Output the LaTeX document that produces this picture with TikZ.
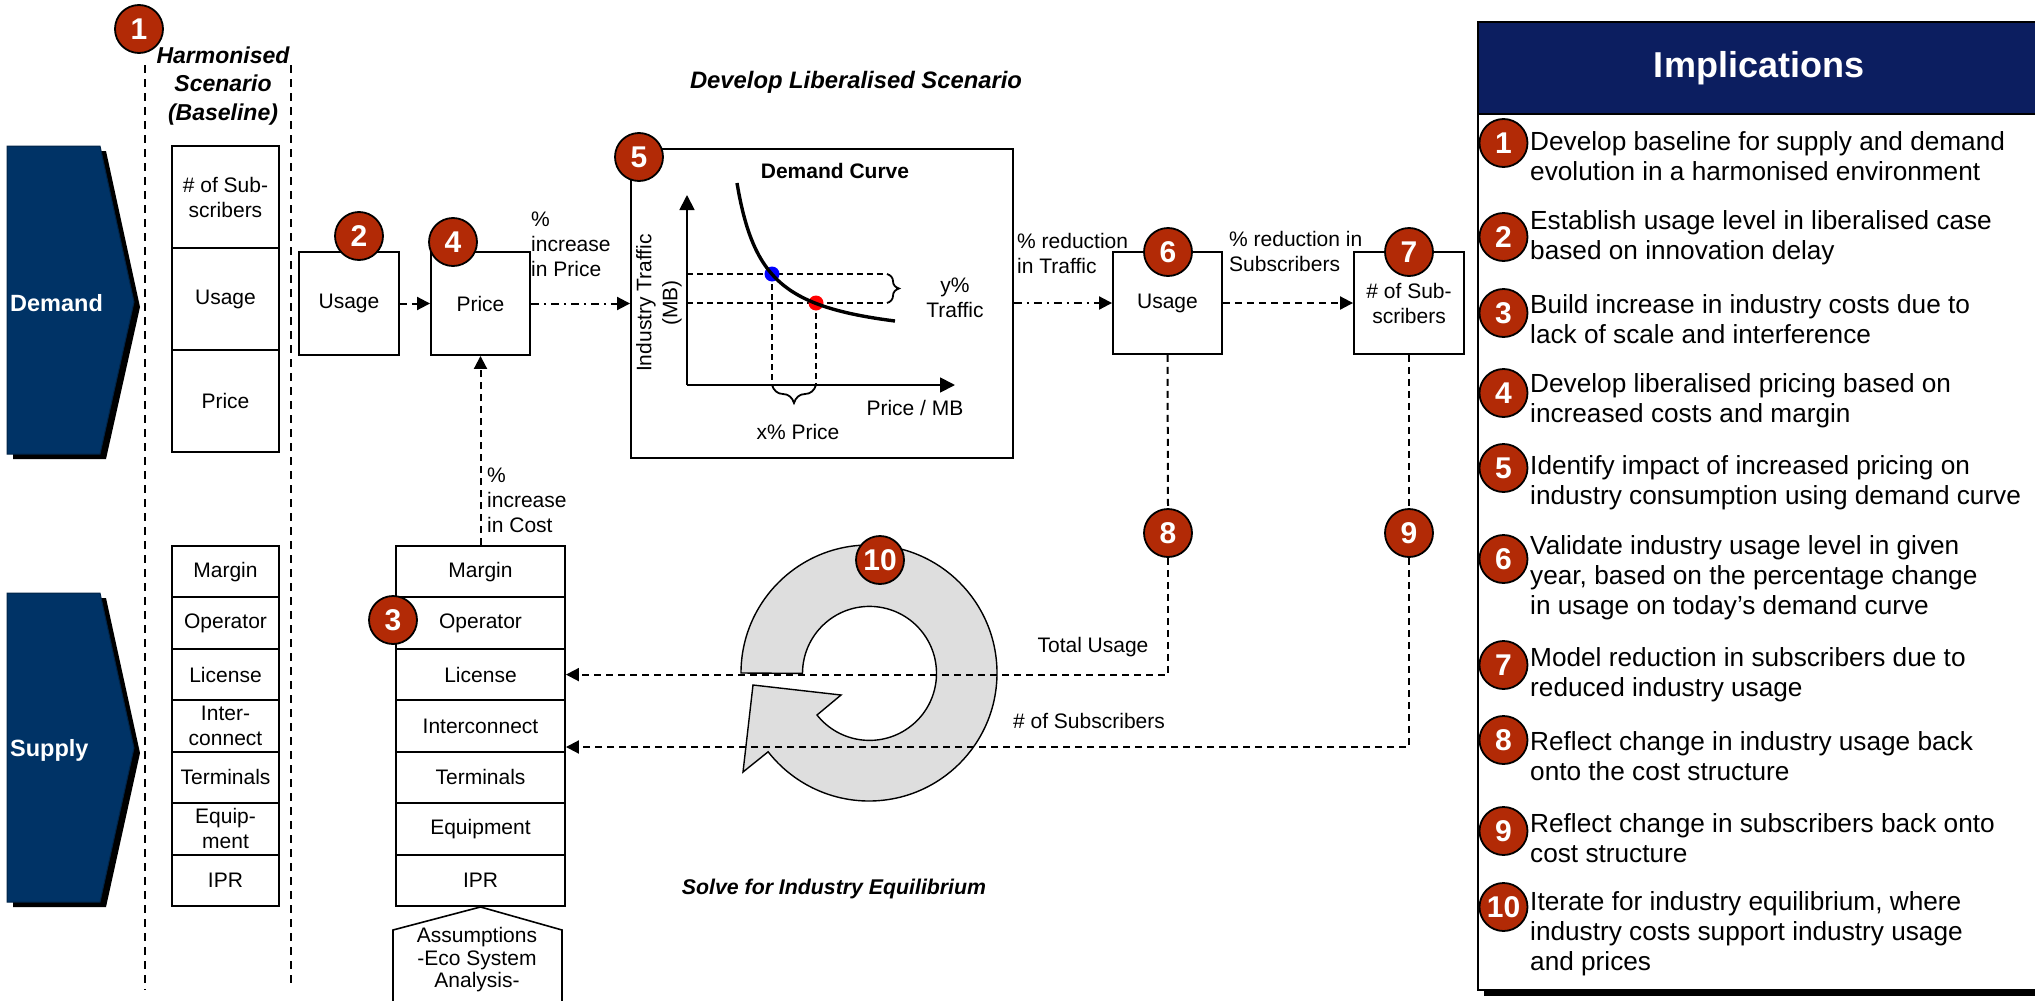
\documentclass[tikz,border=0pt]{standalone}
\usepackage{fontspec}
\setmainfont{Liberation Sans}
\usetikzlibrary{arrows.meta,decorations.pathreplacing,calc}
\definecolor{badgered}{RGB}{178,42,6}
\definecolor{navyA}{RGB}{0,51,102}
\definecolor{navyH}{RGB}{12,30,96}
\definecolor{ringgray}{RGB}{222,222,222}
\newcommand\myfs[2]{\fontsize{#1}{#2}\selectfont}
\begin{document}
\begin{tikzpicture}[x=1pt,y=-1pt,
  cbox/.style={draw=black,line width=1.9pt,inner sep=0pt,align=center,font=\myfs{21}{25}},
  badge/.style={circle,draw=black,line width=1.8pt,fill=badgered,text=white,font=\bfseries\myfs{30}{30},minimum size=48pt,inner sep=0pt},
  lbl/.style={font=\myfs{21}{25},align=left,inner sep=0pt},
  dashln/.style={line width=2pt,dash pattern=on 7pt off 5pt},
  thindash/.style={line width=1.6pt,dash pattern=on 6pt off 4pt},
  vdash/.style={line width=1.6pt,dash pattern=on 8pt off 6pt},
  dashdot/.style={line width=2pt,dash pattern=on 8pt off 5pt on 2pt off 5pt},
  arr/.style={-{Triangle[length=13pt,width=13pt]}},
  axarr/.style={-{Triangle[length=15pt,width=15pt]}},
  impitem/.style={anchor=west,align=left,inner sep=0pt,font=\myfs{26.2}{30}},
  arrowlbl/.style={text=white,font=\bfseries\myfs{23.5}{28},inner sep=0pt},
]
\useasboundingbox (0,0) rectangle (2035,1001);
\clip (0,0) rectangle (2035,1001);
\fill[white] (0,0) rectangle (2035,1001);

% ---- baseline dashed separators
\draw[vdash] (145,65) -- (145,990);
\draw[vdash] (291,65) -- (291,983);
\node[badge] (b1) at (139,29) {1};
\node[font=\bfseries\itshape\myfs{23}{28.5},align=center,inner sep=0pt] (tharm) at (223,86) {Harmonised\\Scenario\\(Baseline)};

% ---- Demand / Supply chevrons
\fill[black,shift={(6,5)}] (7,146) -- (100,146) -- (134,302) -- (100,454) -- (7,454) -- cycle;
\filldraw[fill=navyA,draw=navyA!70!black,line width=1pt] (7,146) -- (100,146) -- (134,302) -- (100,454) -- (7,454) -- cycle;
\node[arrowlbl,anchor=west] (demlbl) at (10,303) {Demand};
\fill[black,shift={(6,5)}] (7,593) -- (100,593) -- (134,748) -- (100,902) -- (7,902) -- cycle;
\filldraw[fill=navyA,draw=navyA!70!black,line width=1pt] (7,593) -- (100,593) -- (134,748) -- (100,902) -- (7,902) -- cycle;
\node[arrowlbl,anchor=west] (suplbl) at (10,750) {Supply};

% ---- baseline demand column
\node[cbox,minimum width=107pt,minimum height=102pt] (bsub) at (225.5,197) {\# of Sub-\\scribers};
\node[cbox,minimum width=107pt,minimum height=102pt] (busage) at (225.5,299) {Usage};
\node[cbox,minimum width=107pt,minimum height=102pt] (bprice) at (225.5,401) {Price};

% ---- baseline supply column
\node[cbox,minimum width=107pt,minimum height=51.43pt] (smar) at (225.5,571.7) {Margin};
\node[cbox,minimum width=107pt,minimum height=51.43pt] (sope) at (225.5,623.1) {Operator};
\node[cbox,minimum width=107pt,minimum height=51.43pt] (slic) at (225.5,674.6) {License};
\node[cbox,minimum width=107pt,minimum height=51.43pt] (sint) at (225.5,726.0) {Inter-\\connect};
\node[cbox,minimum width=107pt,minimum height=51.43pt] (ster) at (225.5,777.4) {Terminals};
\node[cbox,minimum width=107pt,minimum height=51.43pt] (sequ) at (225.5,828.9) {Equip-\\ment};
\node[cbox,minimum width=107pt,minimum height=51.43pt] (sipr) at (225.5,880.3) {IPR};

% ---- cost stack
\node[cbox,minimum width=169pt,minimum height=51.43pt] (cmar) at (480.5,571.7) {Margin};
\node[cbox,minimum width=169pt,minimum height=51.43pt] (cope) at (480.5,623.1) {Operator};
\node[cbox,minimum width=169pt,minimum height=51.43pt] (clic) at (480.5,674.6) {License};
\node[cbox,minimum width=169pt,minimum height=51.43pt] (cint) at (480.5,726.0) {Interconnect};
\node[cbox,minimum width=169pt,minimum height=51.43pt] (cter) at (480.5,777.4) {Terminals};
\node[cbox,minimum width=169pt,minimum height=51.43pt] (cequ) at (480.5,828.9) {Equipment};
\node[cbox,minimum width=169pt,minimum height=51.43pt] (cipr) at (480.5,880.3) {IPR};
\node[badge] (b3) at (393,620) {3};

% assumptions pentagon
\draw[line width=1.6pt,fill=white] (393,1012) -- (393,930) -- (cipr.south) -- (562,930) -- (562,1012);
\node[font=\myfs{21}{22.5},align=center,inner sep=0pt] (assump) at (477,960) {Assumptions\\-Eco System\\Analysis-};

% ---- liberalised scenario boxes
\node[cbox,minimum width=100pt,minimum height=103pt] (use2) at (349,303.5) {Usage};
\node[cbox,minimum width=99pt,minimum height=103pt] (price4) at (480.5,303.5) {Price};
\node[badge] (b2) at (359,236) {2};
\node[badge] (b4) at (453,242) {4};

\node[font=\bfseries\itshape\myfs{23.8}{28},inner sep=0pt] (tdev) at (856,82) {Develop Liberalised Scenario};

% demand curve box
\node[cbox,minimum width=382pt,minimum height=309pt] (curvebox) at (822,303.5) {};
\node[badge] (b5) at (639,157) {5};
\node[font=\bfseries\myfs{21}{25},inner sep=0pt] (dctitle) at (835,171) {Demand Curve};
\coordinate (orig) at (687,385);
\coordinate (ytip) at (687,195);
\coordinate (xtip) at (955,385);
\draw[thindash] (orig |- 0,274) -- (887,274);
\draw[thindash] (orig |- 0,303) -- (887,303);
\draw[thindash] (772,274) -- (772,385);
\draw[thindash] (816,303) -- (816,385);
\draw[line width=1.8pt,axarr] (orig) -- (ytip);
\draw[line width=1.8pt,axarr] (orig) -- (xtip);
\fill[blue] (772,274) circle[radius=7.5];
\fill[red] (816,303) circle[radius=7.5];
\draw[line width=3.4pt] plot[domain=737:895,samples=80,smooth] (\x,{344.6-4362.7/(\x-710)});
\draw[line width=1.8pt,decorate,decoration={brace,amplitude=12pt}] (887,274) -- (887,303);
\draw[line width=1.8pt,decorate,decoration={brace,amplitude=18pt,mirror}] (772,385) -- (816,385);
\node[rotate=90,align=center,font=\myfs{21}{26},inner sep=0pt] (ylab) at (659,303) {Industry Traffic\\(MB)};
\node[font=\myfs{21}{25},align=center,inner sep=0pt] (ytraf) at (955,298) {y\%\\Traffic};
\node[font=\myfs{21}{25},inner sep=0pt] (xlab) at (915,408) {Price / MB};
\node[font=\myfs{21}{25},inner sep=0pt] (xprice) at (798,432) {x\% Price};

\node[cbox,minimum width=109pt,minimum height=102pt] (use6) at (1167.5,303) {Usage};
\node[cbox,minimum width=110pt,minimum height=102pt] (sub7) at (1409,303) {\# of Sub-\\scribers};

% ---- equilibrium ring
\filldraw[fill=ringgray,draw=black,line width=1.4pt] (741,673) arc[start angle=-180,end angle=142,radius=128] -- (743,772) -- (753,685) -- (841,695) -- (817,715) arc[start angle=141.6,end angle=-180,radius=67] -- cycle;
\node[font=\bfseries\itshape\myfs{21.3}{25},inner sep=0pt] (tsolve) at (834,889) {Solve for Industry Equilibrium};

% ---- badges 6-9
\node[badge] (b6) at (1168,252) {6};
\node[badge] (b7) at (1409,252) {7};
\node[badge] (b8) at (1168,533) {8};
\node[badge] (b9) at (1409,533) {9};

% ---- connectors
\draw[dashln,arr] (use2.east) -- (price4.west);
\draw[dashdot,arr] (price4.east) -- (price4.east -| curvebox.west);
\draw[dashdot,arr] (curvebox.east |- use6.west) -- (use6.west);
\draw[dashln,arr] (use6.east) -- (sub7.west);
\draw[dashln,arr] (cmar.north) -- (price4.south);
\draw[dashln] (use6.south) -- (b8.north);
\draw[dashln] (sub7.south) -- (b9.north);
\draw[dashln,arr] (b8.south) |- (clic.east);
\draw[dashln,arr] (b9.south) |- ([yshift=-21pt]cint.east);
\node[badge] (b10) at (880,560) {10};

% ---- connector labels
\node[lbl,anchor=west] (lpinc) at (531,244) {\%\\increase\\in Price};
\node[lbl,anchor=west] (lcinc) at (487,500) {\%\\increase\\in Cost};
\node[lbl,anchor=west] (ltraf) at (1017,253) {\% reduction\\in Traffic};
\node[lbl,anchor=west] (lsubs) at (1229,251) {\% reduction in\\Subscribers};
\node[lbl] (ltot) at (1093,647) {Total Usage};
\node[lbl] (lnsub) at (1089,721) {\# of Subscribers};

% ---- implications panel
\fill[black] (1484,27) rectangle (2046,996);
\node[draw=black,line width=1.9pt,fill=white,minimum width=562pt,minimum height=968pt,inner sep=0pt] (implbox) at (1759,506) {};
\node[fill=navyH,draw=black,line width=1.9pt,minimum width=562pt,minimum height=92pt,inner sep=0pt,text=white,font=\bfseries\myfs{36}{40}] (implhead) at (1759,68) {Implications};

\node[impitem] (imp1) at (1530,156) {Develop baseline for supply and demand\\evolution in a harmonised environment};
\node[impitem] (imp2) at (1530,238) {Establish usage level in liberalised case\\based on innovation delay};
\node[impitem] (imp3) at (1530,319) {Build increase in industry costs due to\\lack of scale and interference};
\node[impitem] (imp4) at (1530,401) {Develop liberalised pricing based on\\increased costs and margin};
\node[impitem] (imp5) at (1530,483) {Identify impact of increased pricing on\\industry consumption using demand curve};
\node[impitem] (imp6) at (1530,578) {Validate industry usage level in given\\year, based on the percentage change\\in usage on today’s demand curve};
\node[impitem] (imp7) at (1530,675) {Model reduction in subscribers due to\\reduced industry usage};
\node[impitem] (imp8) at (1530,756) {Reflect change in industry usage back\\onto the cost structure};
\node[impitem] (imp9) at (1530,838) {Reflect change in subscribers back onto\\cost structure};
\node[impitem] (imp10) at (1530,934) {Iterate for industry equilibrium, where\\industry costs support industry usage\\and prices};

\node[badge] (ib1) at (1503.5,143) {1};
\node[badge] (ib2) at (1503.5,237) {2};
\node[badge] (ib3) at (1503.5,313) {3};
\node[badge] (ib4) at (1503.5,393) {4};
\node[badge] (ib5) at (1503.5,468) {5};
\node[badge] (ib6) at (1503.5,559) {6};
\node[badge] (ib7) at (1503.5,665) {7};
\node[badge] (ib8) at (1503.5,740) {8};
\node[badge] (ib9) at (1503.5,831) {9};
\node[badge] (ib10) at (1503.5,907) {10};
\end{tikzpicture}
\end{document}
